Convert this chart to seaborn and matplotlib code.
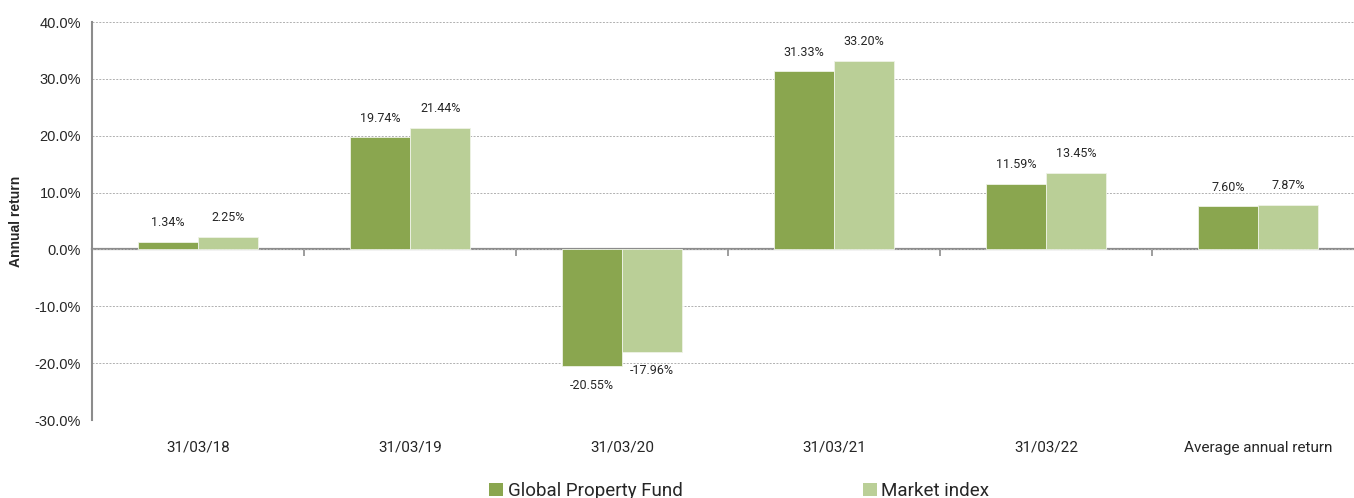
import numpy as np
import pandas as pd
import matplotlib
matplotlib.use("Agg")
import matplotlib.pyplot as plt
import seaborn as sns
from matplotlib.ticker import FuncFormatter, MultipleLocator
from matplotlib.patches import Patch

# data
periods = ['31/03/18', '31/03/19', '31/03/20', '31/03/21', '31/03/22', 'Average annual return']
fund = [1.34, 19.74, -20.55, 31.33, 11.59, 7.60]
index = [2.25, 21.44, -17.96, 33.20, 13.45, 7.87]
series = ['Global Property Fund', 'Market index']
colors = ['#8AA64F', '#BACF97']

df = pd.DataFrame({
    'period': periods * 2,
    'value': fund + index,
    'series': [series[0]] * len(periods) + [series[1]] * len(periods),
})

sns.set_style("white")
plt.rcParams['font.family'] = ['Roboto', 'DejaVu Sans']

fig = plt.figure(figsize=(13.54, 4.98), dpi=100)
ax = fig.add_axes([92 / 1354, 78 / 498, 1272 / 1354, 398 / 498])

sns.barplot(data=df, x='period', y='value', hue='series', palette=colors, saturation=1,
            width=0.57, edgecolor='#eef3e6', linewidth=0.6, ax=ax, legend=False)

ymin, ymax = -30, 40
ax.set_ylim(ymin, ymax)
ax.set_xlim(-0.5, len(periods) - 0.5)
ax.yaxis.set_major_locator(MultipleLocator(10))
ax.yaxis.set_major_formatter(FuncFormatter(lambda v, p: f"{v:.1f}%"))
ax.grid(axis='y', linestyle=(0, (2, 1.5)), color='#b0b0b0', linewidth=0.7)
ax.set_axisbelow(True)

for s in ['top', 'right', 'bottom']:
    ax.spines[s].set_visible(False)
ax.spines['left'].set_color('#8c8c8c')
ax.spines['left'].set_linewidth(1.5)

ax.tick_params(axis='y', length=5, width=1.2, color='#8c8c8c', labelsize=10.5, pad=3)
for t in ax.get_yticklabels():
    t.set_fontfamily('Liberation Sans')
ax.tick_params(axis='x', length=0, labelsize=11, pad=15)
ax.set_xlabel('')
ax.set_ylabel('Annual return', fontsize=10, fontweight='bold', family='Liberation Sans', labelpad=8)

# zero line with ticks between categories
sec = ax.secondary_xaxis((0 - ymin) / (ymax - ymin))
sec.set_xticks(np.arange(len(periods)) + 0.5)
sec.set_xticklabels([''] * len(periods))
sec.tick_params(length=5, width=1.2, color='#8c8c8c')
sec.spines['bottom'].set_color('#8c8c8c')
sec.spines['bottom'].set_linewidth(1.6)

for cont in ax.containers:
    vals = cont.datavalues
    ax.bar_label(cont, labels=[f"{v:.2f}%" for v in vals], padding=9, fontsize=9)

handles = [Patch(facecolor=c, edgecolor='none') for c in colors]
fig.legend(handles, series, loc='center', bbox_to_anchor=(0.546, 7 / 498), ncol=2,
           frameon=False, fontsize=13.5, handlelength=0.75, handleheight=0.75,
           handletextpad=0.25, columnspacing=9.6)

fig.savefig('out.png', dpi=100)
